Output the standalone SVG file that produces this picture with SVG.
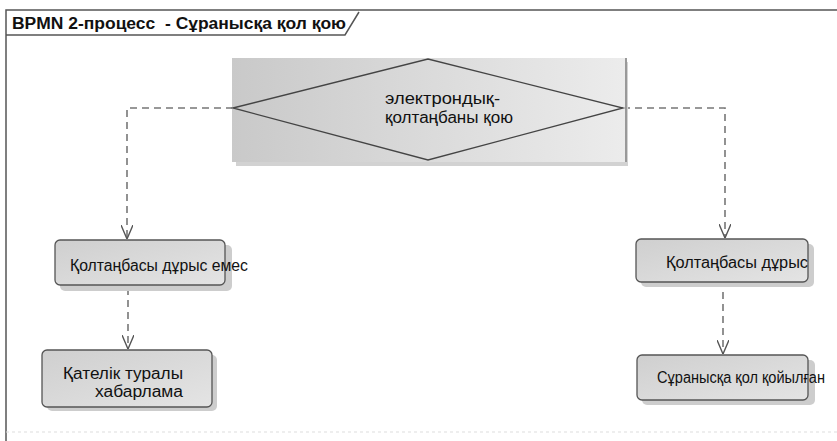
<svg xmlns="http://www.w3.org/2000/svg" width="837" height="441" viewBox="0 0 837 441">
<defs>
<linearGradient id="gDec" x1="0" y1="0" x2="1" y2="0">
<stop offset="0" stop-color="#c9c9c9"/>
<stop offset="1" stop-color="#ececec"/>
</linearGradient>
<linearGradient id="gBox" x1="0" y1="0" x2="1" y2="1">
<stop offset="0" stop-color="#cfcfcf"/>
<stop offset="1" stop-color="#e4e4e4"/>
</linearGradient>
<marker id="arr" viewBox="0 0 14 12" refX="14" refY="6" markerWidth="14" markerHeight="12" orient="auto" markerUnits="userSpaceOnUse">
<path d="M0,0 L14,6 L0,12" fill="none" stroke="#555" stroke-width="1.4"/>
</marker>
</defs>
<style>
.frame{fill:none;stroke:#555;stroke-width:1.5}
.title{font-family:"Liberation Sans",Arial,sans-serif;font-weight:bold;font-size:16px;fill:#111;white-space:pre}
.lbl{font-family:"Liberation Sans",Arial,sans-serif;font-size:16px;fill:#111}
.box{fill:url(#gBox);stroke:#555;stroke-width:1.3}
.shadow{fill:#cdcdcd}
.conn{fill:none;stroke:#777;stroke-width:1.6;stroke-dasharray:7,5}
.dm{fill:none;stroke:#444;stroke-width:1.3}
</style>
<rect width="837" height="441" fill="#fff"/>
<g id="frame">
<path class="frame" d="M6,441 V10 H837"/>
<path class="frame" d="M6,35 H345 L359,12"/>
<line x1="6" y1="432" x2="837" y2="432" stroke="#ddd" stroke-width="1" stroke-dasharray="3,3"/>
<text class="title" x="12" y="29" textLength="334" lengthAdjust="spacingAndGlyphs" xml:space="preserve">BPMN 2-процесс  - Сұранысқа қол қою</text>
</g>
<g id="connectors">
<path class="conn" d="M233,108 H127 V239" marker-end="url(#arr)"/>
<path class="conn" d="M623,108 H725 V238" marker-end="url(#arr)"/>
<path class="conn" d="M128,288 V349" marker-end="url(#arr)"/>
<path class="conn" d="M723,292 V354" marker-end="url(#arr)"/>
</g>
<g id="decision">
<rect x="236" y="62" width="392" height="104" fill="#d2d2d2"/>
<rect x="232" y="58" width="394" height="104" fill="url(#gDec)"/>
<line x1="626" y1="58" x2="626" y2="162" stroke="#999" stroke-width="2"/>
<polygon class="dm" points="233,108 428,59 623,108 428,160"/>
<text class="lbl" x="385" y="104" textLength="115" lengthAdjust="spacingAndGlyphs">электрондық-</text>
<text class="lbl" x="385" y="123" textLength="128" lengthAdjust="spacingAndGlyphs">қолтаңбаны қою</text>
</g>
<g id="invalid">
<rect class="shadow" x="60" y="245" width="172" height="46" rx="5"/>
<rect class="box" x="55" y="240" width="170" height="45" rx="5"/>
<text class="lbl" x="70" y="271" textLength="178" lengthAdjust="spacingAndGlyphs">Қолтаңбасы дұрыс емес</text>
</g>
<g id="error">
<rect class="shadow" x="47" y="355" width="170" height="56" rx="5"/>
<rect class="box" x="42" y="350" width="170" height="57" rx="5"/>
<text class="lbl" x="63" y="379" textLength="120" lengthAdjust="spacingAndGlyphs">Қателік туралы</text>
<text class="lbl" x="95" y="397" textLength="88" lengthAdjust="spacingAndGlyphs">хабарлама</text>
</g>
<g id="valid">
<rect class="shadow" x="641" y="244" width="173" height="43" rx="5"/>
<rect class="box" x="636" y="239" width="172" height="43" rx="5"/>
<text class="lbl" x="666" y="268" textLength="142" lengthAdjust="spacingAndGlyphs">Қолтаңбасы дұрыс</text>
</g>
<g id="signed">
<rect class="shadow" x="642" y="360" width="173" height="45" rx="5"/>
<rect class="box" x="637" y="355" width="171" height="45" rx="5"/>
<text class="lbl" x="657" y="383" textLength="168" lengthAdjust="spacingAndGlyphs">Сұранысқа қол қойылған</text>
</g>
</svg>
